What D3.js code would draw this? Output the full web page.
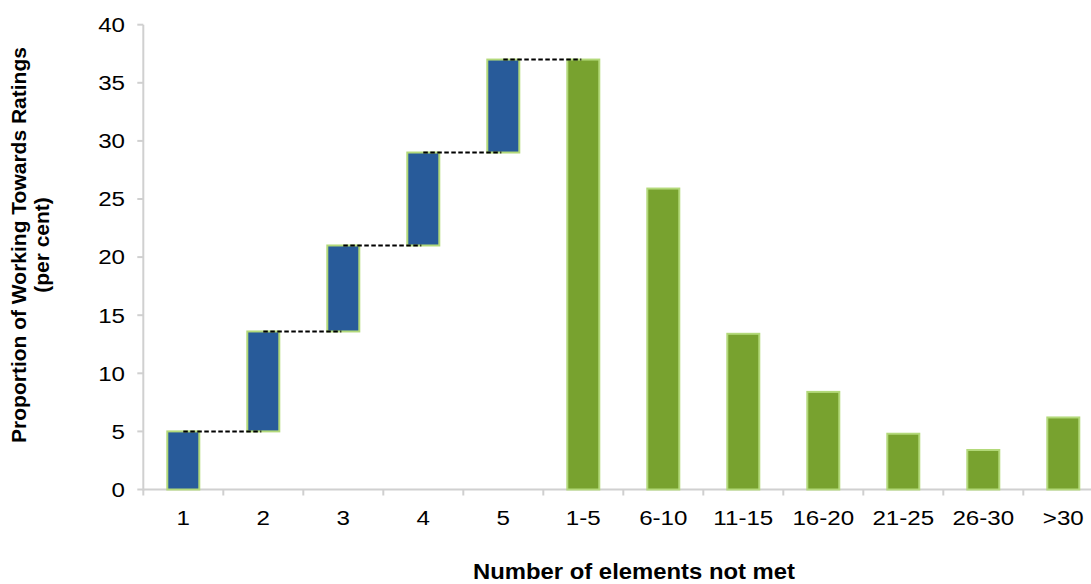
<!DOCTYPE html>
<html>
<head>
<meta charset="utf-8">
<script src="https://cdn.jsdelivr.net/npm/d3@7"></script>
<style>
  html, body { margin: 0; padding: 0; background: #fff; }
  svg { display: block; font-family: "Liberation Sans", Arial, sans-serif; }
</style>
</head>
<body>
<svg id="chart" width="1091" height="584"></svg>
<script>
// ---- data ----
const categories = ["1", "2", "3", "4", "5", "1-5", "6-10", "11-15", "16-20", "21-25", "26-30", ">30"];
// waterfall increments for single elements 1..5
const stepCategories = ["1", "2", "3", "4", "5"];
const stepValues = [5.0, 8.6, 7.4, 8.0, 8.0];
// grouped totals
const groupCategories = ["1-5", "6-10", "11-15", "16-20", "21-25", "26-30", ">30"];
const groupValues = [37.0, 25.9, 13.4, 8.4, 4.8, 3.4, 6.2];
const yTicks = [0, 5, 10, 15, 20, 25, 30, 35, 40];
const xTitle = "Number of elements not met";
const yTitleLines = ["Proportion of Working Towards Ratings", "(per cent)"];

// ---- layout ----
const svg = d3.select("#chart");
const x = d3.scaleBand().domain(categories).range([143.3, 1103.3]).paddingInner(0.6).paddingOuter(0.3);
const y = d3.scaleLinear().domain([0, 40]).range([489.5, 24.7]);

const blue = "#285b9a", green = "#78a22f", edge = "#b3d97a", axisCol = "#d0d0d0";
const stretch = 1.15;

// waterfall segments
let cum = 0;
const steps = stepCategories.map((c, i) => {
  const s = { cat: c, y0: cum, y1: cum + stepValues[i] };
  cum += stepValues[i];
  return s;
});
const groups = groupCategories.map((c, i) => ({ cat: c, y0: 0, y1: groupValues[i] }));

// axes lines
const step = x.step();
const x0 = x.range()[0];
svg.append("line").attr("x1", x0).attr("x2", 1091).attr("y1", y(0)).attr("y2", y(0))
  .attr("stroke", axisCol).attr("stroke-width", 2);
svg.append("line").attr("x1", x0).attr("x2", x0).attr("y1", y(40)).attr("y2", y(0) + 1)
  .attr("stroke", axisCol).attr("stroke-width", 2);

// x tick marks at band boundaries
svg.append("g").selectAll("line").data(d3.range(categories.length + 1)).join("line")
  .attr("x1", i => x0 + i * step).attr("x2", i => x0 + i * step)
  .attr("y1", y(0)).attr("y2", y(0) + 6)
  .attr("stroke", axisCol).attr("stroke-width", 2);

// y ticks
const yg = svg.append("g");
yg.selectAll("line").data(yTicks).join("line")
  .attr("x1", x0 - 6).attr("x2", x0).attr("y1", d => y(d)).attr("y2", d => y(d))
  .attr("stroke", axisCol).attr("stroke-width", 2);
yg.selectAll("text").data(yTicks).join("text")
  .attr("transform", d => `translate(125,${y(d)}) scale(${stretch},1)`)
  .attr("dy", "0.35em")
  .attr("text-anchor", "end").attr("font-size", 21).attr("fill", "#000")
  .text(d => d);

// x labels
svg.append("g").selectAll("text").data(categories).join("text")
  .attr("transform", d => `translate(${x(d) + x.bandwidth() / 2},525) scale(${stretch},1)`)
  .attr("text-anchor", "middle").attr("font-size", 21).attr("fill", "#000")
  .text(d => d);

// bars
const bars = svg.append("g");
bars.selectAll("rect.step").data(steps).join("rect").attr("class", "step")
  .attr("x", d => x(d.cat)).attr("width", x.bandwidth())
  .attr("y", d => y(d.y1)).attr("height", d => y(d.y0) - y(d.y1))
  .attr("fill", blue).attr("stroke", edge).attr("stroke-width", 2);
bars.selectAll("rect.grp").data(groups).join("rect").attr("class", "grp")
  .attr("x", d => x(d.cat)).attr("width", x.bandwidth())
  .attr("y", d => y(d.y1)).attr("height", d => y(d.y0) - y(d.y1))
  .attr("fill", green).attr("stroke", edge).attr("stroke-width", 2);

// dashed connectors (center to center at cumulative level)
const conn = steps.map((s, i) => ({ from: s.cat, to: categories[i + 1], v: s.y1 }));
svg.append("g").selectAll("line").data(conn).join("line")
  .attr("x1", d => x(d.from) + x.bandwidth() / 2)
  .attr("x2", d => x(d.to) + x.bandwidth() / 2 - 2)
  .attr("y1", d => y(d.v)).attr("y2", d => y(d.v))
  .attr("stroke", "#000").attr("stroke-width", 2).attr("stroke-dasharray", "4.5,2.5");

// titles
svg.append("text").attr("x", 473).attr("y", 579)
  .attr("textLength", 322).attr("lengthAdjust", "spacingAndGlyphs")
  .attr("font-size", 22).attr("font-weight", "bold").text(xTitle);
const yt = svg.append("text").attr("transform", "translate(0,245) rotate(-90)")
  .attr("text-anchor", "middle").attr("font-size", 21).attr("font-weight", "bold");
yt.append("tspan").attr("x", 0).attr("y", 26).text(yTitleLines[0]);
yt.append("tspan").attr("x", 0).attr("y", 49).text(yTitleLines[1]);
</script>
</body>
</html>
